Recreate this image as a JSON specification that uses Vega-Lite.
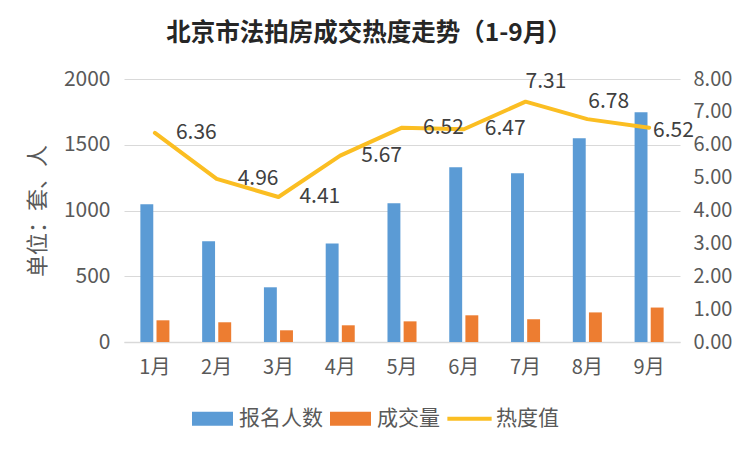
{
  "$schema": "https://vega.github.io/schema/vega-lite/v6.json",
  "width": 556,
  "height": 263,
  "autosize": {"type": "none"},
  "padding": {"left": 124, "top": 79, "right": 72, "bottom": 110},
  "background": "white",
  "config": {
    "font": "Noto Sans CJK SC",
    "view": {"stroke": null},
    "axis": {"labelFont": "Noto Sans CJK SC", "labelColor": "#595959", "labelFontSize": 21, "titleFont": "Noto Sans CJK SC"},
    "legend": {"labelFont": "Noto Sans CJK SC"},
    "text": {"font": "Noto Sans CJK SC", "fontSize": 21, "color": "#404040", "baseline": "middle", "align": "left"}
  },
  "title": {
    "text": "北京市法拍房成交热度走势（1-9月）",
    "fontSize": 24.5,
    "fontWeight": "bold",
    "color": "#262626",
    "anchor": "middle",
    "dx": -33,
    "offset": 22
  },
  "datasets": {
    "bars": [
      {"month": "1月", "series": "报名人数", "value": 1047},
      {"month": "1月", "series": "成交量", "value": 165},
      {"month": "2月", "series": "报名人数", "value": 766},
      {"month": "2月", "series": "成交量", "value": 150},
      {"month": "3月", "series": "报名人数", "value": 416},
      {"month": "3月", "series": "成交量", "value": 89},
      {"month": "4月", "series": "报名人数", "value": 750},
      {"month": "4月", "series": "成交量", "value": 127},
      {"month": "5月", "series": "报名人数", "value": 1055},
      {"month": "5月", "series": "成交量", "value": 157},
      {"month": "6月", "series": "报名人数", "value": 1328},
      {"month": "6月", "series": "成交量", "value": 203},
      {"month": "7月", "series": "报名人数", "value": 1283},
      {"month": "7月", "series": "成交量", "value": 173},
      {"month": "8月", "series": "报名人数", "value": 1549},
      {"month": "8月", "series": "成交量", "value": 225},
      {"month": "9月", "series": "报名人数", "value": 1747},
      {"month": "9月", "series": "成交量", "value": 262}
    ],
    "heat": [
      {"month": "1月", "heat": 6.36},
      {"month": "2月", "heat": 4.96},
      {"month": "3月", "heat": 4.41},
      {"month": "4月", "heat": 5.67},
      {"month": "5月", "heat": 6.52},
      {"month": "6月", "heat": 6.47},
      {"month": "7月", "heat": 7.31},
      {"month": "8月", "heat": 6.78},
      {"month": "9月", "heat": 6.52}
    ]
  },
  "layer": [
    {
      "data": {"name": "bars"},
      "mark": {"type": "bar"},
      "encoding": {
        "x": {
          "field": "month",
          "type": "ordinal",
          "sort": null,
          "scale": {"paddingInner": 0.53, "paddingOuter": 0.265},
          "axis": {"title": null, "labelAngle": 0, "ticks": false, "domain": true, "domainColor": "#d9d9d9", "domainWidth": 1.5, "labelPadding": 15, "labelFontSize": 20}
        },
        "xOffset": {"field": "series", "type": "nominal", "scale": {"domain": ["报名人数", "成交量"], "paddingInner": 0.2}},
        "y": {
          "field": "value",
          "type": "quantitative",
          "scale": {"domain": [0, 2000]},
          "axis": {
            "title": "单位：套、人",
            "titleFontSize": 22,
            "titleFontWeight": "normal",
            "titleColor": "#595959",
            "titlePadding": 14,
            "values": [0, 500, 1000, 1500, 2000],
            "format": "d",
            "ticks": false,
            "domain": false,
            "grid": true,
            "gridColor": "#d9d9d9",
            "gridWidth": 1.2,
            "labelPadding": 14
          }
        },
        "color": {
          "field": "series",
          "type": "nominal",
          "scale": {"domain": ["报名人数", "成交量", "热度值"], "range": ["#5B9BD5", "#ED7D31", "#FBBE22"]},
          "legend": {
            "title": null,
            "orient": "none",
            "legendX": 68,
            "legendY": 319,
            "direction": "horizontal",
            "labelFontSize": 21,
            "labelColor": "#595959",
            "labelOffset": 6,
            "columnPadding": 7,
            "symbolSize": 1681,
            "symbolStrokeWidth": 0,
            "encode": {
              "symbols": {
                "update": {
                  "shape": {"signal": "datum.value === '热度值' ? 'M-1.08,-0.1L1.08,-0.1L1.08,0.1L-1.08,0.1Z' : 'M-1,-0.34L1,-0.34L1,0.34L-1,0.34Z'"},
                  "fill": {"scale": "color", "field": "value"},
                  "strokeWidth": {"value": 0},
                  "opacity": {"value": 1}
                }
              }
            }
          }
        }
      }
    },
    {
      "data": {"name": "heat"},
      "encoding": {
        "x": {"field": "month", "type": "ordinal", "sort": null},
        "y": {
          "field": "heat",
          "type": "quantitative",
          "scale": {"domain": [0, 8]},
          "axis": {
            "orient": "right",
            "title": null,
            "values": [0, 1, 2, 3, 4, 5, 6, 7, 8],
            "format": ".2f",
            "ticks": false,
            "domain": false,
            "grid": false,
            "labelOverlap": false,
            "labelFontSize": 20,
            "labelPadding": 13
          }
        },
        "text": {"field": "heat", "type": "quantitative", "format": ".2f"}
      },
      "layer": [
        {
          "mark": {"type": "line", "strokeWidth": 4, "strokeCap": "round", "strokeJoin": "round"},
          "encoding": {"color": {"datum": "热度值"}}
        },
        {
          "transform": [{"filter": {"field": "month", "oneOf": ["1月", "2月", "3月", "4月", "5月", "6月"]}}],
          "mark": {"type": "text", "dx": 21}
        },
        {
          "transform": [{"filter": {"field": "month", "equal": "7月"}}],
          "mark": {"type": "text", "dx": 0, "dy": -20}
        },
        {
          "transform": [{"filter": {"field": "month", "equal": "8月"}}],
          "mark": {"type": "text", "dx": 1, "dy": -17}
        },
        {
          "transform": [{"filter": {"field": "month", "equal": "9月"}}],
          "mark": {"type": "text", "dx": 4, "dy": 3}
        }
      ]
    }
  ],
  "resolve": {"scale": {"y": "independent"}}
}
